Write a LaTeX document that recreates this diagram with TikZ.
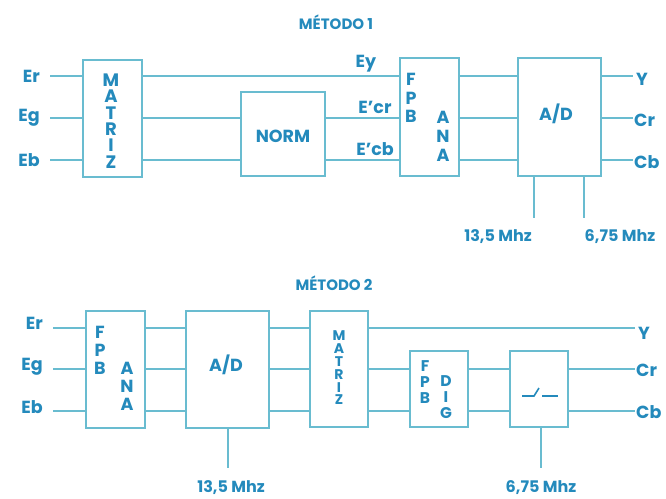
\documentclass[tikz,border=0pt]{standalone}
\usepackage{fontspec}
\setmainfont{Poppins}
\usetikzlibrary{positioning}
\definecolor{TextBlue}{RGB}{36, 138, 188}
\definecolor{LineBlue}{RGB}{105, 188, 208}

\tikzset{
  wire/.style={draw=LineBlue, line width=1.4pt},
  blk/.style={draw=LineBlue, line width=1.4pt, fill=white, inner sep=0pt},
  lbl/.style={text=TextBlue, font=\fontsize{17.5}{20}\selectfont\bfseries, inner sep=1pt},
  frq/.style={text=TextBlue, font=\fontsize{16}{19}\selectfont\bfseries, inner sep=1pt},
  ttl/.style={text=TextBlue, font=\fontsize{15}{18}\selectfont\bfseries},
  stk/.style={text=TextBlue, align=center, inner sep=0pt},
}

\begin{document}
\begin{tikzpicture}[x=1pt, y=-1pt]
      \useasboundingbox (0,0) rectangle (666,498);

      % Method 1
      \node[ttl] (title1) at (336,22) {MÉTODO 1};

      \coordinate (r1) at (50,76);
      \coordinate (g1) at (50,118);
      \coordinate (b1) at (50,160);
      \node[lbl, left=9pt of r1] (er1) {Er};
      \node[lbl, left=9pt of g1] (eg1) {Eg};
      \node[lbl, left=9pt of b1] (eb1) {Eb};

      \node[blk, minimum width=59, minimum height=117] (matA) at (112.5,118.5) {};
      \node[stk, font=\fontsize{18}{16.3}\selectfont\bfseries] at (111,121) {M\\A\\T\\R\\I\\Z};
      \node[blk, minimum width=84, minimum height=84] (normA) at (283,134) {};
      \node[lbl] at (283,136) {NORM};
      \node[blk, minimum width=59, minimum height=118] (fpbA) at (429.5,117) {};
      \node[stk, font=\fontsize{17.5}{18.5}\selectfont\bfseries] at (411,98) {F\\P\\B};
      \node[stk, font=\fontsize{17.5}{19}\selectfont\bfseries] at (443,136) {A\\N\\A};
      \node[blk, minimum width=83, minimum height=118] (adA) at (559.5,117) {};
      \node[lbl] at (556,114) {A/D};

      \draw[wire] (r1) -- (matA.west |- r1);
      \draw[wire] (g1) -- (matA.west |- g1);
      \draw[wire] (b1) -- (matA.west |- b1);
      \draw[wire] (matA.east |- r1) -- (fpbA.west |- r1);
      \draw[wire] (matA.east |- g1) -- (normA.west |- g1);
      \draw[wire] (matA.east |- b1) -- (normA.west |- b1);
      \draw[wire] (normA.east |- g1) -- (fpbA.west |- g1);
      \draw[wire] (normA.east |- b1) -- (fpbA.west |- b1);
      \node[lbl] (ey) at (366,64) {Ey};
      \node[lbl] (ecr) at (375,107) {E'cr};
      \node[lbl] (ecb) at (375,149) {E'cb};
      \draw[wire] (fpbA.east |- r1) -- (adA.west |- r1);
      \draw[wire] (fpbA.east |- g1) -- (adA.west |- g1);
      \draw[wire] (fpbA.east |- b1) -- (adA.west |- b1);

      \coordinate (yo1) at (633,76);
      \coordinate (cro1) at (633,118);
      \coordinate (cbo1) at (633,160);
      \draw[wire] (adA.east |- yo1) -- (yo1);
      \draw[wire] (adA.east |- cro1) -- (cro1);
      \draw[wire] (adA.east |- cbo1) -- (cbo1);
      \node[lbl, anchor=west] (y1) at ([shift={(2pt,-3pt)}]yo1) {Y};
      \node[lbl, anchor=west] (cr1) at ([shift={(0pt,-2pt)}]cro1) {Cr};
      \node[lbl, anchor=west] (cb1) at ([shift={(0pt,-2pt)}]cbo1) {Cb};

      \coordinate (ckA) at (534,218);
      \coordinate (ckB) at (584,218);
      \draw[wire] (adA.south -| ckA) -- (ckA);
      \draw[wire] (adA.south -| ckB) -- (ckB);
      \node[frq] (f1) at (498,237) {13,5 Mhz};
      \node[frq] (f2) at (620,237) {6,75 Mhz};

      % Method 2
      \node[ttl] (title2) at (334,283) {MÉTODO 2};

      \coordinate (r2) at (53,328);
      \coordinate (g2) at (53,369);
      \coordinate (b2) at (53,411);
      \node[lbl, left=9pt of r2, yshift=5pt] (er2) {Er};
      \node[lbl, left=9pt of g2, yshift=2pt] (eg2) {Eg};
      \node[lbl, left=9pt of b2, yshift=4pt] (eb2) {Eb};

      \node[blk, minimum width=59, minimum height=117] (fpbB) at (115.5,369.5) {};
      \node[stk, font=\fontsize{17.5}{18}\selectfont\bfseries] at (100,350) {F\\P\\B};
      \node[stk, font=\fontsize{17.5}{18}\selectfont\bfseries] at (127,386) {A\\N\\A};
      \node[blk, minimum width=83, minimum height=117] (adB) at (227.5,369.5) {};
      \node[lbl] at (226,365) {A/D};
      \node[blk, minimum width=58, minimum height=116] (matB) at (339,369) {};
      \node[stk, font=\fontsize{14}{12.8}\selectfont\bfseries] at (339,368) {M\\A\\T\\R\\I\\Z};
      \node[blk, minimum width=58, minimum height=76] (fpbC) at (439,389) {};
      \node[stk, font=\fontsize{15.5}{16}\selectfont\bfseries] at (425,382) {F\\P\\B};
      \node[stk, font=\fontsize{15.5}{16}\selectfont\bfseries] at (446,397) {D\\I\\G};
      \node[blk, minimum width=58, minimum height=76] (swB) at (539,389) {};
      \draw[TextBlue, line width=1.6pt] ([shift={(-17,7)}]swB.center) -- ++(12,0) -- ++(5,-8);
      \draw[TextBlue, line width=1.6pt] ([shift={(3,7)}]swB.center) -- ++(16,0);

      \draw[wire] (r2) -- (fpbB.west |- r2);
      \draw[wire] (g2) -- (fpbB.west |- g2);
      \draw[wire] (b2) -- (fpbB.west |- b2);
      \draw[wire] (fpbB.east |- r2) -- (adB.west |- r2);
      \draw[wire] (fpbB.east |- g2) -- (adB.west |- g2);
      \draw[wire] (fpbB.east |- b2) -- (adB.west |- b2);
      \draw[wire] (adB.east |- r2) -- (matB.west |- r2);
      \draw[wire] (adB.east |- g2) -- (matB.west |- g2);
      \draw[wire] (adB.east |- b2) -- (matB.west |- b2);
      \draw[wire] (matB.east |- g2) -- (fpbC.west |- g2);
      \draw[wire] (matB.east |- b2) -- (fpbC.west |- b2);
      \draw[wire] (fpbC.east |- g2) -- (swB.west |- g2);
      \draw[wire] (fpbC.east |- b2) -- (swB.west |- b2);

      \coordinate (yo2) at (635,328);
      \coordinate (cro2) at (635,369);
      \coordinate (cbo2) at (635,411);
      \draw[wire] (matB.east |- yo2) -- (yo2);
      \draw[wire] (swB.east |- cro2) -- (cro2);
      \draw[wire] (swB.east |- cbo2) -- (cbo2);
      \node[lbl, anchor=west] (y2) at ([shift={(2pt,-5pt)}]yo2) {Y};
      \node[lbl, anchor=west] (cr2) at ([shift={(0pt,-1pt)}]cro2) {Cr};
      \node[lbl, anchor=west] (cb2) at ([shift={(0pt,-1pt)}]cbo2) {Cb};

      \coordinate (ckC) at (228,468);
      \coordinate (ckD) at (541,468);
      \draw[wire] (adB.south -| ckC) -- (ckC);
      \draw[wire] (swB.south -| ckD) -- (ckD);
      \node[frq] (f3) at (231,488) {13,5 Mhz};
      \node[frq] (f4) at (541,488) {6,75 Mhz};
    \end{tikzpicture}
\end{document}
